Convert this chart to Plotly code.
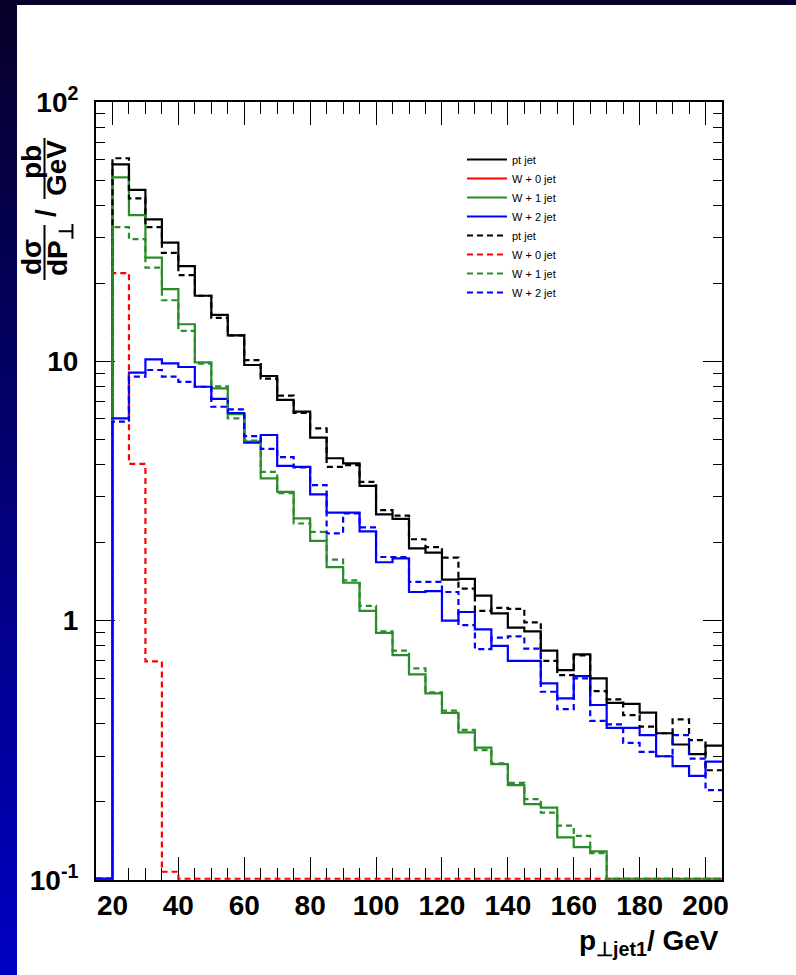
import plotly.graph_objects as go

# ---------------- data (5 GeV bins, left edges 20..200) ----------------
bin_lo = list(range(20, 205, 5))          # 20, 25, ..., 200
bin_first = 15                             # empty bin 15-20
bin_hi_last = 205

pt_jet = [57.5, 45.8, 35.3, 28.7, 23.3, 17.9, 15.1, 12.6, 9.68, 8.78, 7.1, 6.4,
          5.08, 4.23, 4.04, 3.31, 2.57, 2.47, 1.90, 1.83, 1.44, 1.45, 1.25, 1.067,
          0.94, 0.91, 0.766, 0.645, 0.741, 0.599, 0.482, 0.478, 0.442, 0.368, 0.333,
          0.306, 0.33]
w0_jet = [0.0] * 37
w1_jet = [51.2, 36.6, 25.1, 19.0, 13.9, 9.91, 7.87, 6.26, 4.9, 3.54, 3.14, 2.48,
          2.03, 1.61, 1.40, 1.09, 0.898, 0.737, 0.621, 0.524, 0.441, 0.371, 0.324, 0.28,
          0.232, 0.196, 0.19, 0.146, 0.134, 0.129, 0, 0, 0, 0, 0, 0, 0]
w2_jet = [6.03, 9.04, 10.18, 9.82, 9.51, 7.98, 7.16, 6.32, 4.86, 5.2, 3.95, 3.92,
          3.07, 2.61, 2.61, 2.21, 1.68, 1.74, 1.29, 1.30, 1.0, 1.08, 0.925, 0.80,
          0.70, 0.70, 0.573, 0.502, 0.611, 0.473, 0.386, 0.386, 0.362, 0.30, 0.275,
          0.252, 0.286]

pt_jet_b = [60.7, 42.5, 32.9, 26.2, 21.5, 17.9, 14.7, 12.6, 10.1, 8.57, 7.37, 6.32,
            5.51, 3.92, 3.98, 3.43, 2.67, 2.54, 2.06, 1.92, 1.75, 1.33, 1.09, 1.12,
            1.11, 0.985, 0.70, 0.617, 0.735, 0.535, 0.497, 0.432, 0.39, 0.368, 0.416,
            0.346, 0.265]
w0_jet_b = [21.9, 4.02, 0.697, 0.1076] + [0.0] * 33
w1_jet_b = [32.9, 29.6, 23.0, 17.2, 13.1, 9.8, 8.0, 6.03, 4.95, 3.75, 3.1, 2.37,
            2.2, 1.72, 1.43, 1.14, 0.91, 0.766, 0.655, 0.529, 0.45, 0.379, 0.317, 0.282,
            0.237, 0.205, 0.182, 0.162, 0.148, 0.127, 0, 0, 0, 0, 0, 0, 0]
w2_jet_b = [5.85, 8.73, 9.26, 8.73, 8.34, 7.98, 6.68, 6.53, 5.15, 4.6, 4.27, 3.9,
            3.33, 2.17, 2.59, 2.29, 1.76, 1.76, 1.41, 1.41, 1.29, 0.962, 0.777, 0.86,
            0.87, 0.78, 0.532, 0.456, 0.599, 0.411, 0.398, 0.338, 0.312, 0.30, 0.362,
            0.294, 0.222]

series_names = ["pt jet", "W + 0 jet", "W + 1 jet", "W + 2 jet"]
series_solid = [pt_jet, w0_jet, w1_jet, w2_jet]
series_dashed = [pt_jet_b, w0_jet_b, w1_jet_b, w2_jet_b]
colors = ["#000000", "#ff0000", "#2a8c2a", "#0000ff"]

x_ticks = [20, 40, 60, 80, 100, 120, 140, 160, 180, 200]
y_tickvals = [0.1, 1, 10, 100]
y_ticktext = ["10<sup>-1</sup>", "1", "10", "10<sup>2</sup>"]

# ---------------- geometry helpers ----------------
W, H = 796, 975
L, R, T, B = 96, 722, 102, 880
FLOOR = 0.1011


def PX(px):
    return (px - L) / (R - L)


def PY(py):
    return (B - py) / (B - T)


def step_xy(vals):
    xs = [bin_first] + bin_lo + [bin_hi_last]
    if all(v == 0 for v in vals):
        ys = [None] * len(xs)
    else:
        yv = [v if v > 0 else FLOOR for v in vals]
        ys = [FLOOR] + yv + [yv[-1]]
    return xs, ys


fig = go.Figure()
for dash, group in (("solid", series_solid), ("6px,4px", series_dashed)):
    for name, vals, col in zip(series_names, group, colors):
        xs, ys = step_xy(vals)
        fig.add_trace(go.Scatter(
            x=xs, y=ys, mode="lines", name=name,
            line=dict(color=col, width=2.2, dash=dash, shape="hv"),
            connectgaps=False,
        ))

# ---------------- background (dark frame with blue gradient strip) ----------------
shapes = []
shapes.append(dict(type="rect", xref="paper", yref="paper", layer="below",
                   x0=PX(17), x1=PX(W), y0=PY(H), y1=PY(5),
                   fillcolor="white", line=dict(width=0)))
n = 60
c0 = (6, 0, 42)
c1 = (0, 0, 194)
for i in range(n):
    f = i / (n - 1)
    col = tuple(round(c0[k] + (c1[k] - c0[k]) * f) for k in range(3))
    y0 = i * H / n
    y1 = (i + 1) * H / n + 0.5
    shapes.append(dict(type="rect", xref="paper", yref="paper", layer="below",
                       x0=PX(0), x1=PX(17), y0=PY(y1), y1=PY(y0),
                       fillcolor="rgb(%d,%d,%d)" % col, line=dict(width=0)))

# fraction bars of the y title
for (ya, yb) in ((138, 199), (225, 280)):
    shapes.append(dict(type="line", xref="paper", yref="paper",
                       x0=PX(44.5), x1=PX(44.5), y0=PY(yb), y1=PY(ya),
                       line=dict(color="black", width=2)))

FAM = "Liberation Sans, Arial, sans-serif"
annotations = []


def rot_text(text, cx, cy, size=28):
    annotations.append(dict(text="<b>%s</b>" % text, xref="paper", yref="paper",
                            x=PX(cx), y=PY(cy), xanchor="center", yanchor="middle",
                            textangle=-90, showarrow=False,
                            font=dict(family=FAM, size=size, color="black")))


rot_text("pb", 31, 162)
rot_text("GeV", 57, 168)
rot_text("/", 45, 213)
rot_text("dσ", 31, 257)
rot_text("dP<sub>⊥</sub>", 59, 250)

annotations.append(dict(text="<b>p<sub>⊥jet1</sub>/ GeV</b>", xref="paper", yref="paper",
                        x=PX(721), y=PY(942), xanchor="right", yanchor="middle",
                        showarrow=False, font=dict(family=FAM, size=28, color="black")))

fig.update_layout(
    width=W, height=H, autosize=False,
    margin=dict(l=L, r=W - R, t=T, b=H - B, pad=0),
    paper_bgcolor="rgb(6,0,42)",
    plot_bgcolor="white",
    showlegend=True,
    legend=dict(x=PX(462), y=PY(145), xanchor="left", yanchor="top",
                bgcolor="rgba(0,0,0,0)", borderwidth=0,
                font=dict(family=FAM, size=11, color="black"),
                tracegroupgap=0, itemwidth=40),
    shapes=shapes,
    annotations=annotations,
)

fig.update_xaxes(
    range=[15, 205], showgrid=False, zeroline=False,
    showline=True, linecolor="black", linewidth=2, mirror="ticks",
    ticks="inside", ticklen=23, tickwidth=1, tickcolor="black",
    tickvals=x_ticks, ticktext=[str(v) for v in x_ticks],
    tickfont=dict(family=FAM, size=28, color="black", weight="bold"),
    ticklabelstandoff=-1,
    minor=dict(ticks="inside", ticklen=12, tickwidth=1, tickcolor="black", dtick=5, tick0=0, showgrid=False),
    layer="below traces",
)

minor_y = [m * 10 ** e for e in (-1, 0, 1) for m in range(2, 10)]
fig.update_yaxes(
    type="log", range=[-1, 2], showgrid=False, zeroline=False,
    showline=True, linecolor="black", linewidth=2, mirror="ticks",
    ticks="inside", ticklen=19, tickwidth=1, tickcolor="black",
    tickvals=y_tickvals, ticktext=y_ticktext,
    tickfont=dict(family=FAM, size=28, color="black", weight="bold"),
    ticklabelstandoff=10,
    minor=dict(ticks="inside", ticklen=9, tickwidth=1, tickcolor="black", tickvals=minor_y, showgrid=False),
    layer="below traces",
)

fig.write_html("out.html")
